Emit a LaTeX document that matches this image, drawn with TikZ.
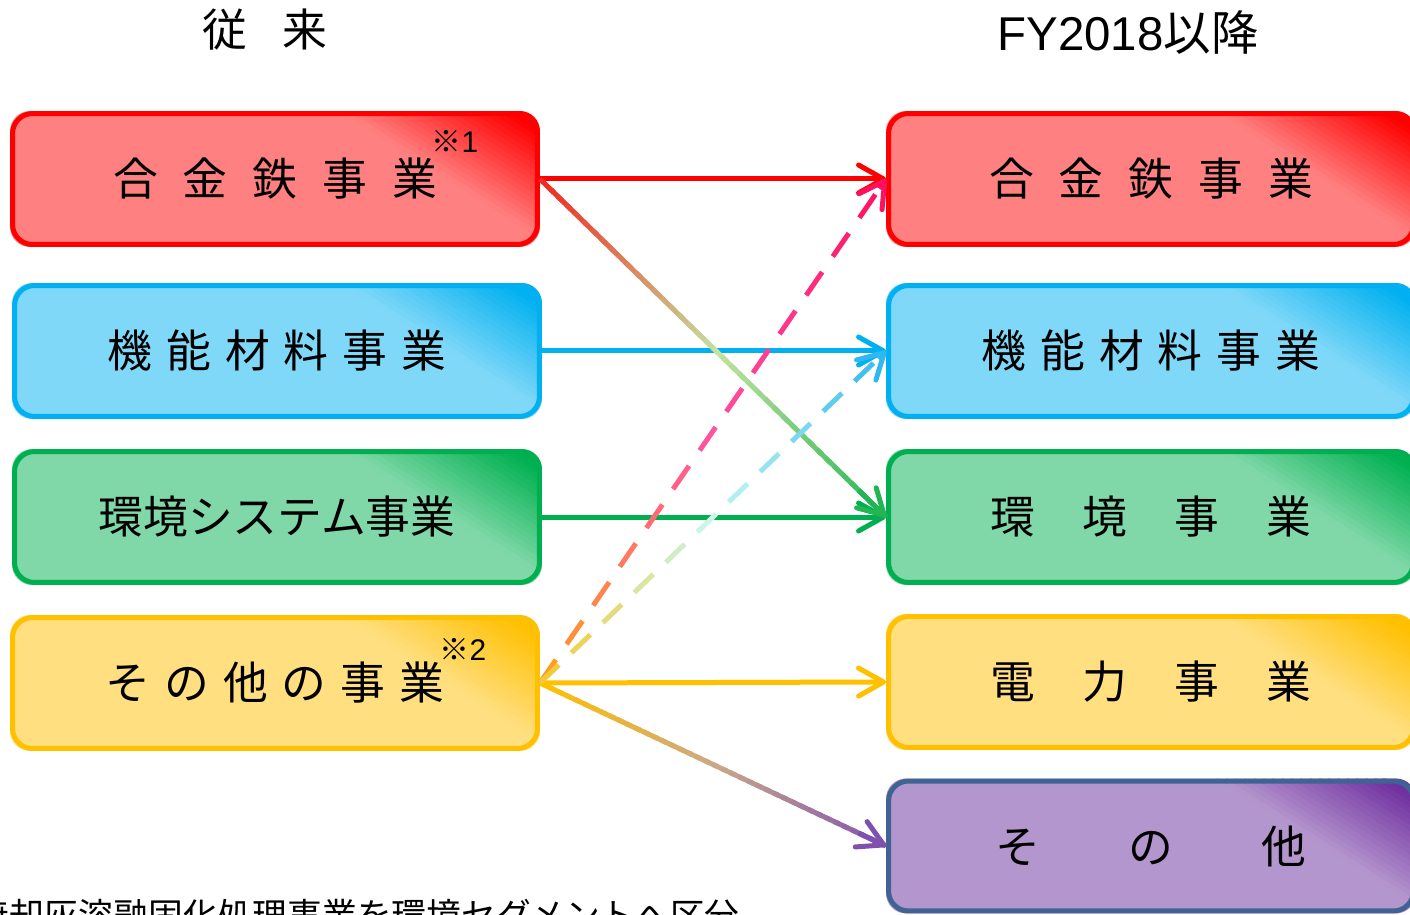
\documentclass[tikz,border=0pt]{standalone}
\usepackage{fontspec}
\setmainfont{Noto Sans CJK JP}
\newfontfamily\latinfont{Liberation Sans}
\usetikzlibrary{calc, arrows.meta}

\pgfdeclarelayer{background}
\pgfsetlayers{background,main}

\definecolor{redline}{HTML}{FF0000}
\definecolor{redfill}{HTML}{FF8080}
\definecolor{blueline}{HTML}{00B0F0}
\definecolor{bluefill}{HTML}{80D8F8}
\definecolor{greenline}{HTML}{00B050}
\definecolor{greenfill}{HTML}{80D8A8}
\definecolor{yellowline}{HTML}{FFC000}
\definecolor{yellowfill}{HTML}{FFDF80}
\definecolor{purpleline}{HTML}{3F6494}
\definecolor{purplefill}{HTML}{B496CE}
\definecolor{purpledark}{HTML}{7030A0}
% connector gradients
\definecolor{alloystart}{HTML}{F02A20}
\definecolor{alloymid}{HTML}{C4E2A0}
\definecolor{alloyend}{HTML}{22B552}
\definecolor{otherstart}{HTML}{FFC000}
\definecolor{othermid}{HTML}{C9A88A}
\definecolor{otherend}{HTML}{8050B0}
\definecolor{pinkstart}{HTML}{FFA020}
\definecolor{pinkmid}{HTML}{FF50A0}
\definecolor{pinkend}{HTML}{FF1060}
\definecolor{cyanstart}{HTML}{F5C830}
\definecolor{cyanmid}{HTML}{C8F8F0}
\definecolor{cyanend}{HTML}{30B8F0}

\tikzset{
	segbox/.style={draw=#1, line width=0.1cm, rounded corners=0.4cm,
		minimum width=10.5cm, minimum height=2.62cm,
		font=\fontsize{25.5}{30}\selectfont},
	barb/.style={-{Straight Barb[length=5mm,width=5.6mm,round]}},
	link/.style={line width=0.1cm, barb}
}

% characters with a gap between them
\newcommand\spaced[2]{\def\chargap{#1}\spacedstep#2\relax}
\def\spacedstep#1#2{#1\ifx\relax#2\else\hspace{\chargap}\expandafter\spacedstep\expandafter#2\fi}

% box fill, darkening toward the top right corner
\newcommand\boxshade[3]{%
	\begin{pgfonlayer}{background}
		\begin{scope}
			\clip[rounded corners=0.4cm] (#1.south west) rectangle (#1.north east);
			\begin{scope}[shift={(#1.center)}, rotate=57.5]
				\fill[#2] (-400,-400) rectangle (93,400);
				\foreach \k in {0,...,17}
				{
					\pgfmathtruncatemacro\mixpct{100*(\k+0.5)/18}
					\fill[#3!\mixpct!#2] (92+5*\k,-400) rectangle (98+5*\k,400);
				}
				\fill[#3] (181,-400) rectangle (400,400);
			\end{scope}
		\end{scope}
	\end{pgfonlayer}
}

% solid line, colour running start -> middle -> end
\newcommand\gradarrow[5]{%
	\foreach \i in {0,...,39}
	{
		\ifnum\i<20
			\pgfmathtruncatemacro\p{100-5*\i}\colorlet{segcol}{#3!\p!#4}
		\else
			\pgfmathtruncatemacro\p{100-5*(\i-20)}\colorlet{segcol}{#4!\p!#5}
		\fi
		\draw[line width=0.1cm, segcol] ($(#1)!{\i/40}!(#2)$) -- ($(#1)!{min(1,(\i+1.6)/40)}!(#2)$);
	}
	\draw[link, #5] ($(#1)!0.92!(#2)$) -- (#2);
}

% dashed line, one colour per dash
\newcommand\graddash[6]{%
	\foreach \i in {1,...,#6}
	{
		\pgfmathtruncatemacro\q{200*(\i-0.7)/#6}
		\ifnum\q<100
			\pgfmathtruncatemacro\p{100-\q}\colorlet{segcol}{#3!\p!#4}
		\else
			\pgfmathtruncatemacro\p{200-\q}\colorlet{segcol}{#4!\p!#5}
		\fi
		\draw[line width=0.1cm, segcol] ($(#1)!{(\i-1)/#6}!(#2)$) -- ($(#1)!{(\i-0.4)/#6}!(#2)$);
	}
	\draw[link, #5] ($(#1)!{1-0.25/#6}!(#2)$) -- (#2);
}

\begin{document}
\begin{tikzpicture}[x=0.02cm, y=-0.02cm]
	\path[use as bounding box] (0,0) rectangle (1410,915);
	\clip (0,0) rectangle (1410,915);

	% headings
	\node[font=\fontsize{25.5}{30}\selectfont] (oldhead) at (265,30) {従\hspace{0.7cm}来};
	\node[font=\fontsize{27}{32}\selectfont] (newhead) at (1128,33) {{\latinfont FY2018}以降};

	% before
	\node[segbox=redline] (oldalloy) at (275,179) {\spaced{0.5cm}{合金鉄事業}};
	\node[segbox=blueline] (oldfunc) at (277,351) {\spaced{0.28cm}{機能材料事業}};
	\node[segbox=greenline] (oldenv) at (277,517) {環境システム事業};
	\node[segbox=yellowline] (oldother) at (275,683) {\spaced{0.28cm}{その他の事業}};

	\node[font=\fontsize{17}{20}\selectfont] (note1) at (455,141) {※{\latinfont 1}};
	\node[font=\fontsize{17}{20}\selectfont] (note2) at (463,649) {※{\latinfont 2}};

	% FY2018 and after
	\node[segbox=redline] (newalloy) at (1151,179) {\spaced{0.5cm}{合金鉄事業}};
	\node[segbox=blueline] (newfunc) at (1151,351) {\spaced{0.28cm}{機能材料事業}};
	\node[segbox=greenline] (newenv) at (1151,517) {\spaced{0.94cm}{環境事業}};
	\node[segbox=yellowline] (newpower) at (1151,682) {\spaced{0.94cm}{電力事業}};
	\node[segbox=purpleline, minimum height=2.6cm] (newother) at (1151,846) {\spaced{1.76cm}{その他}};

	\boxshade{oldalloy}{redfill}{redline}
	\boxshade{oldfunc}{bluefill}{blueline}
	\boxshade{oldenv}{greenfill}{greenline}
	\boxshade{oldother}{yellowfill}{yellowline}
	\boxshade{newalloy}{redfill}{redline}
	\boxshade{newfunc}{bluefill}{blueline}
	\boxshade{newenv}{greenfill}{greenline}
	\boxshade{newpower}{yellowfill}{yellowline}
	\boxshade{newother}{purplefill}{purpledark}

	% connectors
	\draw[link, redline] (oldalloy.east) -- (newalloy.west);
	\draw[link, blueline] (oldfunc.east) -- (newfunc.west);
	\draw[link, greenline] (oldenv.east) -- (newenv.west);
	\draw[link, yellowline] (oldother.east) -- (newpower.west);

	\gradarrow{oldalloy.east}{newenv.west}{alloystart}{alloymid}{alloyend}
	\gradarrow{oldother.east}{newother.west}{otherstart}{othermid}{otherend}

	\graddash{oldother.east}{newalloy.west}{pinkstart}{pinkmid}{pinkend}{13}
	\graddash{oldother.east}{newfunc.west}{cyanstart}{cyanmid}{cyanend}{11}

	% footnote, cut by the page edge
	\node[anchor=west, font=\fontsize{19.8}{24}\selectfont, inner sep=0pt] (footnote) at (-26,915) {焼却灰溶融固化処理事業を環境セグメントへ区分};
\end{tikzpicture}
\end{document}
